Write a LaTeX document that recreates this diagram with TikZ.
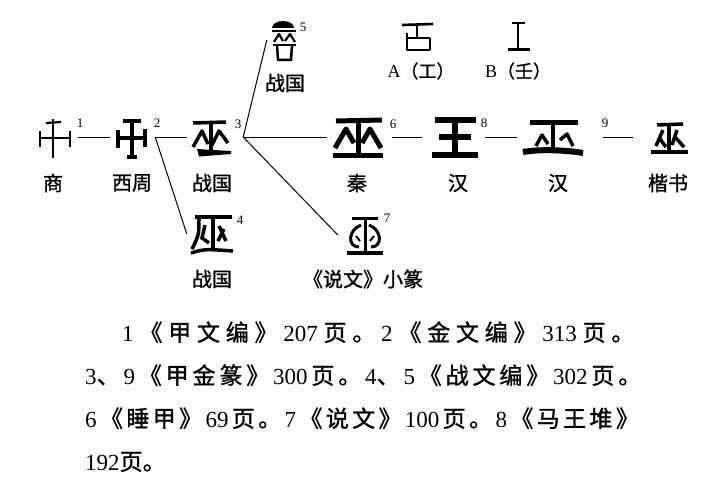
\documentclass[tikz,border=0pt]{standalone}
\usepackage{fontspec}
\setmainfont{Liberation Serif}
\newfontfamily\cjk[FakeBold=1.2]{Noto Sans CJK SC}
\newcommand\gl{\hskip 0pt plus 1fil\relax}
\def\spreadaux#1{\ifx\relax#1\else#1\gl\expandafter\spreadaux\fi}
\newcommand\CJ[1]{{\cjk\spreadaux#1\relax}}
\begin{document}
\begin{tikzpicture}[x=1pt,y=-1pt,
  gbox/.style={inner sep=0pt, minimum height=44pt},
  lab/.style={font=\fontsize{20}{24}\selectfont\cjk, inner sep=0pt},
  ablab/.style={font=\fontsize{18}{22}\selectfont, inner sep=0pt},
  num/.style={font=\fontsize{13}{15}\selectfont, inner sep=0pt},
  conn/.style={line width=1pt},
  skA/.style={line width=2.2pt},
  skB/.style={line width=3.5pt},
  skC/.style={line width=5pt},
  note/.style={font=\fontsize{23}{27}\selectfont, inner sep=0pt, anchor=base west}]
\useasboundingbox (0,0) rectangle (720,487);
% ---------- glyph boxes (invisible) ----------
\node[gbox, minimum width=40pt] (g1) at (58,137) {};
\node[gbox, minimum width=45pt] (g2) at (132.5,137) {};
\node[gbox, minimum width=56pt] (g3) at (215,137) {};
\node[gbox, minimum width=65pt] (g6) at (359.5,137) {};
\node[gbox, minimum width=63pt] (g8) at (453.5,137) {};
\node[gbox, minimum width=86pt] (gH) at (560,137) {};
\node[gbox, minimum width=62pt] (g9) at (664,137) {};
\node[gbox, minimum width=56pt] (g4) at (215,234) {};
\node[gbox, minimum width=52pt] (g7) at (364,235) {};
\node[gbox, minimum width=36pt] (g5) at (285,40) {};
\node[gbox, minimum width=34pt, minimum height=34pt] (ga) at (418,37) {};
\node[gbox, minimum width=26pt, minimum height=34pt] (gb) at (519,37) {};
% ---------- connectors ----------
\draw[conn] (g1.east) -- (g2.west);
\draw[conn] (g2.east) -- (g3.west);
\draw[conn] (g3.east) -- (g6.west);
\draw[conn] (g6.east) -- (g8.west);
\draw[conn] (g8.east) -- (gH.west);
\draw[conn] (gH.east) -- (g9.west);
\draw[conn] (g2.east) -- (g4.west);
\draw[conn] (g3.east) -- (g5.west);
\draw[conn] (g3.east) -- (g7.west);
% ---------- glyph 1 ----------
\draw[skA] (40,138) -- (70,138);
\draw[skA] (53,119) -- (53,158);
\draw[skA] (46,123) -- (61,122);
\draw[skA] (40,131) -- (40,147);
\draw[skA] (70,131) -- (70,147);
% ---------- glyph 2 ----------
\draw[skB] (118,138) -- (145,138);
\draw[skB] (132,119) -- (132,158);
\draw[skB] (123,121) -- (141,121);
\draw[skB] (118,130) -- (118,148);
\draw[skB] (145,129) -- (145,147);
\draw[skB] (127,157) -- (137,157);
% ---------- glyph 3 ----------
\draw[skB] (193,123) -- (226,122);
\draw[skB] (211,123) -- (211,150);
\draw[skB, line join=round] (193,147) -- (202,131) -- (208,144);
\draw[skB, line join=round] (212,145) -- (219,131) -- (228,143);
\fill (197,149) -- (231,151) -- (231,154) -- (199,156.5) -- cycle;
% ---------- glyph 6 ----------
\draw[skC] (336,121) -- (382,120);
\draw[skC] (358,121) -- (358,153);
\draw[skC, line join=round] (335,148) -- (346,129) -- (354,143);
\draw[skC, line join=round] (362,143) -- (370,129) -- (381,148);
\draw[skC] (333,155) -- (383,155);
% ---------- glyph 8 ----------
\draw[line width=5.5pt] (435,120) -- (476,120);
\draw[line width=5.5pt] (439,137) -- (471,137);
\draw[line width=5.5pt] (432,155) -- (478,155);
\draw[line width=5.5pt] (455,120) -- (455,155);
% ---------- glyph H (second Han) ----------
\draw[skC] (530,122) -- (578,122);
\draw[skB] (553,122) -- (553,152);
\draw[skB, line join=round] (536,146) -- (542,135) -- (548,144);
\draw[skB, line join=round] (560,140) -- (567,134) -- (573,146);
\draw[line width=6pt] (523,152) .. controls (540,149) and (565,150) .. (583,153);
% ---------- glyph 9 (kaishu) ----------
\draw[skB] (657,125) -- (683,124);
\draw[skB] (669,125) -- (669,152);
\draw[skB] (663,130) -- (656,146);
\draw[skB] (660,139) -- (666,147);
\draw[skB] (677,130) -- (672,145);
\draw[skB] (675,137) -- (684,147);
\draw[line width=4pt] (651,152) -- (688,152);
% ---------- glyph 4 ----------
\draw[skB] (195,217) -- (232,217);
\draw[skB] (199,217) .. controls (199,235) .. (192,249);
\draw[skB] (213,217) -- (213,249);
\draw[skB] (205,225) -- (202,238) -- (209,243);
\draw[skB] (219,226) -- (226,241);
\draw[skB] (224,229) -- (218,241);
\draw[skB] (191,253) .. controls (205,249) .. (233,251);
% ---------- glyph 7 ----------
\draw[line width=3pt] (352,218) -- (378,218);
\draw[line width=3pt] (365,218) -- (365,252);
\draw[line width=3.5pt] (347,253) -- (383,253);
\draw[line width=3pt] (361,225) .. controls (348,230) and (347,247) .. (359,247);
\draw[line width=3pt] (369,225) .. controls (382,230) and (383,247) .. (371,247);
\draw[line width=2pt] (356,236) -- (360,241);
\draw[line width=2pt] (374,236) -- (370,241);
% ---------- glyph 5 ----------
\fill (272,28) arc[start angle=180, end angle=360, x radius=11, y radius=7] -- cycle;
\draw[line width=2.5pt] (272,31) -- (296,31);
\draw[line width=2.2pt, line join=round] (274,42) -- (279,34) -- (283,41);
\draw[line width=2.2pt, line join=round] (285,41) -- (290,34) -- (295,42);
\draw[line width=2.5pt] (273,45) -- (296,45);
\draw[line width=2.5pt] (277,45) -- (278,60) -- (291,60) -- (292,45);
% ---------- glyph A ----------
\draw[line width=2.6pt] (402,25) -- (433,24);
\draw[line width=2.6pt] (417,25) -- (417,38);
\draw[line width=2.6pt, line join=round] (407,33) -- (407,50) -- (430,50) -- (430,38) -- (407,38);
% ---------- glyph B ----------
\draw[line width=2.6pt] (512,23) -- (525,23);
\draw[line width=2.6pt] (518,23) -- (518,49);
\draw[line width=3pt] (508,50) -- (530,50);
% ---------- superscript numbers ----------
\node[num] (n1) at (80,123) {1};
\node[num] (n2) at (157,123) {2};
\node[num] (n3) at (238,124) {3};
\node[num] (n4) at (240,220) {4};
\node[num] (n5) at (303,27) {5};
\node[num] (n6) at (393,124) {6};
\node[num] (n7) at (387,218) {7};
\node[num] (n8) at (484,123) {8};
\node[num] (n9) at (605,123) {9};
% ---------- labels ----------
\node[lab] (l1) at (53,183) {商};
\node[lab] (l2) at (132,183) {西周};
\node[lab] (l3) at (212,183) {战国};
\node[lab] (l6) at (357,183) {秦};
\node[lab] (l8) at (458,183) {汉};
\node[lab] (lH) at (558,183) {汉};
\node[lab] (l9) at (668,183) {楷书};
\node[lab] (l5) at (285,83) {战国};
\node[lab] (l4) at (212,279) {战国};
\node[lab] (l7) at (363,279) {《说文》小篆};
\node[ablab] (la) at (421,71) {A{\cjk （工）}};
\node[ablab] (lb) at (518,71) {B{\cjk （壬）}};
% ---------- notes ----------
\node[note] (t1) at (122,341) {\makebox[518pt][s]{1\gl\CJ{《甲文编》}207\gl\CJ{页。}2\gl\CJ{《金文编》}313\gl\CJ{页。}}};
\node[note] (t2) at (85,384) {\makebox[560pt][s]{3\CJ{、}9\gl\CJ{《甲金篆》}300\gl\CJ{页。}4\CJ{、}5\gl\CJ{《战文编》}302\gl\CJ{页。}}};
\node[note] (t3) at (85,427) {\makebox[557pt][s]{6\gl\CJ{《睡甲》}69\gl\CJ{页。}7\gl\CJ{《说文》}100\gl\CJ{页。}8\gl\CJ{《马王堆》}}};
\node[note] (t4) at (85,470) {192{\cjk 页。}};
\end{tikzpicture}
\end{document}
